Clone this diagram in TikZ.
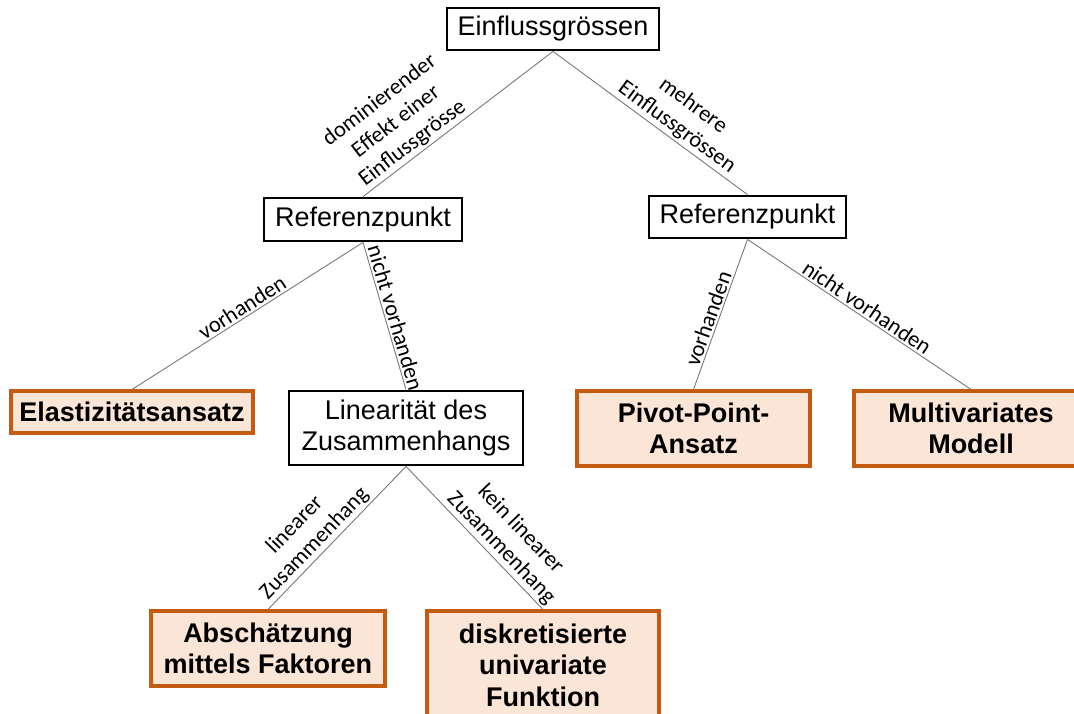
\documentclass[tikz,border=0pt]{standalone}
\usepackage{fontspec}
\setmainfont{Liberation Sans}
\newfontfamily\lblfont{Carlito}
\definecolor{leaffill}{RGB}{251,229,214}
\definecolor{leafdraw}{RGB}{197,90,17}
\definecolor{edgegray}{RGB}{120,120,120}
\begin{document}
\begin{tikzpicture}[x=1pt,y=-1pt,
  box/.style={draw=black,line width=2.8pt,fill=white,inner sep=0pt,align=center,
    font=\fontsize{27}{31.5}\selectfont},
  leaf/.style={draw=leafdraw,line width=3.1pt,fill=leaffill,inner sep=0pt,align=center,
    font=\bfseries\fontsize{27}{31.5}\selectfont},
  conn/.style={draw=edgegray,line width=0.9pt},
  lbl/.style={sloped,above,inner sep=2pt,align=center,
    font=\lblfont\fontsize{22.5}{27}\selectfont}]
\useasboundingbox (0,0) rectangle (1074,714);
% nodes
\node[box,minimum width=212pt,minimum height=42pt] (top) at (553,29) {Einflussgrössen};
\node[box,minimum width=198pt,minimum height=43pt] (refL) at (363,219.5) {Referenzpunkt};
\node[box,minimum width=197pt,minimum height=42pt] (refR) at (747.5,217) {Referenzpunkt};
\node[leaf,minimum width=242pt,minimum height=42pt] (elast) at (132,412) {Elastizitätsansatz};
\node[box,minimum width=234pt,minimum height=74pt] (lin) at (406,428) {Linearität des\\Zusammenhangs};
\node[leaf,minimum width=233pt,minimum height=75pt] (pivot) at (693.5,428.5) {Pivot-Point-\\Ansatz};
\node[leaf,minimum width=234pt,minimum height=75pt] (multi) at (971,428.5) {Multivariates\\Modell};
\node[leaf,minimum width=234pt,minimum height=75pt] (absch) at (268,648.5) {Abschätzung\\mittels Faktoren};
\node[leaf,minimum width=232pt,minimum height=108pt] (diskr) at (543,665) {diskretisierte\\univariate\\Funktion};
% connectors
\draw[conn] (top.south) -- node[lbl,pos=0.70] {dominierender\\Effekt einer\\Einflussgrösse} (refL.north);
\draw[conn] (top.south) -- node[lbl,pos=0.60] {mehrere\\Einflussgrössen} (refR.north);
\draw[conn] (refL.south) -- node[lbl,pos=0.5] {vorhanden} (elast.north);
\draw[conn] (refL.south) -- node[lbl,pos=0.53] {nicht vorhanden} (lin.north);
\draw[conn] (refR.south) -- node[lbl,pos=0.55] {vorhanden} (pivot.north);
\draw[conn] (refR.south) -- node[lbl,pos=0.51] {nicht vorhanden} (multi.north);
\draw[conn] (lin.south) -- node[lbl,pos=0.60] {linearer\\Zusammenhang} (absch.north);
\draw[conn] (lin.south) -- node[lbl,pos=0.63] {kein linearer\\Zusammenhang} (diskr.north);
\end{tikzpicture}
\end{document}
